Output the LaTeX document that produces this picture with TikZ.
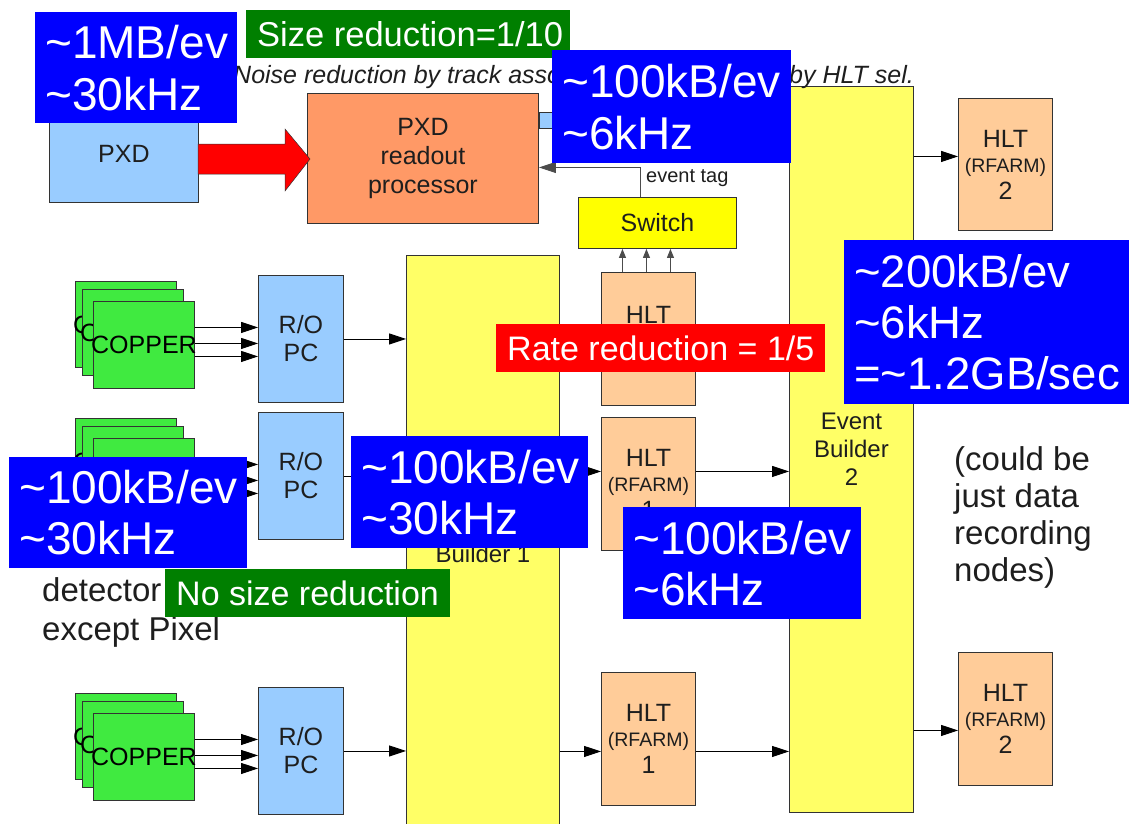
\documentclass[tikz,border=0pt]{standalone}
\usepackage{fontspec}
\setmainfont{Liberation Sans}
\usetikzlibrary{arrows.meta}
\definecolor{lblue}{HTML}{99CCFF}
\definecolor{orng}{HTML}{FF9966}
\definecolor{hltc}{HTML}{FFCC99}
\definecolor{ebc}{HTML}{FFFF66}
\definecolor{swc}{HTML}{FFFF00}
\definecolor{cuc}{HTML}{40EA40}
\definecolor{lblc}{HTML}{0000FF}
\definecolor{grn}{HTML}{007F00}
\definecolor{txt}{HTML}{1E1E1E}
\definecolor{bord}{HTML}{333333}
\newcommand{\fsz}[2]{\fontsize{#1}{#2}\selectfont}
\begin{document}
\begin{tikzpicture}[x=1pt,y=-1pt,
 box/.style={draw=bord, line width=0.9pt, anchor=north west, inner sep=0pt, align=center, text=txt},
 hlt/.style={box, fill=hltc, minimum width=94pt, minimum height=133pt, font=\fsz{25}{27}},
 cu/.style={box, fill=cuc, minimum width=101pt, minimum height=86pt, font=\fsz{25}{29}, text=black},
 tag/.style={anchor=north west, inner xsep=10pt, inner ysep=0pt, text=white, align=left},
 tagone/.style={anchor=north west, inner xsep=11pt, inner ysep=0pt, text=white},
 arr/.style={-{Triangle[length=17pt,width=11pt]}, line width=0.9pt, draw=black},
 sarr/.style={-{Triangle[length=9pt,width=7pt]}, line width=0.9pt, draw=black!70},
 lab/.style={inner sep=0pt, text=txt},
]
\useasboundingbox[fill=white] (0,0) rectangle (1129,823);

% main blocks
\node[box, fill=lblue, minimum width=149pt, minimum height=98pt, font=\fsz{25}{29}] (pxd) at (49,104) {PXD};
\node[box, fill=orng, minimum width=231pt, minimum height=130pt, font=\fsz{25}{29}] (rop) at (307,93) {PXD\\readout\\processor};
\node[box, fill=ebc, minimum width=153pt, minimum height=570pt, font=\fsz{24}{28}] (eb1) at (406,255) {Event\\Builder 1};
\node[box, fill=ebc, minimum width=124pt, minimum height=726pt, font=\fsz{24}{28}] (eb2) at (789,86) {Event\\Builder\\2};
\node[box, fill=swc, minimum width=158pt, minimum height=51pt, font=\fsz{25}{29}] (sw) at (578,197) {Switch};
\node[box, fill=lblue, minimum width=20pt, minimum height=16pt] (pxout) at (539,112) {};

% red arrow PXD -> readout
\filldraw[fill=red, draw=bord, line width=0.5pt] (198,144) -- (285,144) -- (285,129) -- (310,159) -- (285,191) -- (285,174) -- (198,174) -- cycle;

\draw[arr] (pxout.east) -- (pxout.east -| eb2.west);

% COPPER stacks and R/O PCs
\foreach \dy/\k in {0/1,137/2,412/3}{
  \node[cu] (cuA\k) at (75,{281+\dy}) {\makebox[0pt]{COPPER}};
  \node[cu] (cuB\k) at (82,{289+\dy}) {\makebox[0pt]{COPPER}};
  \node[cu, minimum height=87pt] (cuC\k) at (93,{301+\dy}) {\makebox[0pt]{COPPER}};
  \node[box, fill=lblue, minimum width=85pt, minimum height=127pt, font=\fsz{25}{28}] (ro\k) at (258,{275+\dy}) {R/O\\PC};
  \foreach \s in {17.5,1.5,-11.5}{
    \coordinate (c\k) at ([yshift=\s pt]cuC\k.east);
    \draw[arr] (c\k) -- (c\k -| ro\k.west);
  }
  \draw[arr] (ro\k.east) -- (ro\k.east -| eb1.west);
}

% HLT nodes
\node[hlt] (h1) at (601,272) {HLT\\[-3pt]{\fsz{19.5}{24}(RFARM)}\\[-2pt]1};
\node[hlt] (h2) at (601,417) {HLT\\[-2pt]{\fsz{19.5}{24}(RFARM)}\\1};
\node[hlt] (h3) at (601,672) {HLT\\[-2pt]{\fsz{19.5}{24}(RFARM)}\\1};
\node[hlt, minimum height=132pt] (h4) at (958,98) {HLT\\[-2pt]{\fsz{19.5}{24}(RFARM)}\\2};
\node[hlt] (h5) at (958,652) {HLT\\[-2pt]{\fsz{19.5}{24}(RFARM)}\\2};

\draw[arr] (h1.west -| eb1.east) -- (h1.west);
\draw[arr] (h1.east) -- (h1.east -| eb2.west);
\coordinate (r2) at ([yshift=12.5pt]h2.west);
\coordinate (r2e) at ([yshift=12.5pt]h2.east);
\draw[arr] (r2 -| eb1.east) -- (r2);
\draw[arr] (r2e) -- (r2e -| eb2.west);
\coordinate (r3) at ([yshift=-12.5pt]h3.west);
\coordinate (r3e) at ([yshift=-12.5pt]h3.east);
\draw[arr] (r3 -| eb1.east) -- (r3);
\draw[arr] (r3e) -- (r3e -| eb2.west);
\coordinate (r4) at ([yshift=8pt]h4.west);
\draw[arr] (r4 -| eb2.east) -- (r4);
\coordinate (r5) at ([yshift=-11.5pt]h5.west);
\draw[arr] (r5 -| eb2.east) -- (r5);

% HLT -> switch
\foreach \s in {-26,-2,22}{
  \coordinate (p) at ([xshift=\s pt]h1.north);
  \draw[sarr] (p) -- (p |- sw.south);
}
% switch -> readout (event tag)
\coordinate (et) at ([xshift=-17pt]sw.north);
\coordinate (rt) at ([yshift=-9pt]rop.east);
\draw[arr, draw=black!70] (et) |- (rt);
\node[lab, anchor=west, font=\fsz{20}{24}] (evt) at (646,178) {event tag};

% free texts
\node[lab, anchor=base west, font=\itshape\fsz{25}{30}] (noise) at (233,83) {Noise reduction by track association};
\node[lab, anchor=base east, font=\itshape\fsz{25}{30}] (hltsel) at (914,83) {by HLT sel.};
\node[lab, anchor=west, align=left, font=\fsz{33}{39}] (det) at (42,612) {detector\\except Pixel};
\node[lab, anchor=west, align=left, font=\fsz{33}{37}] (could) at (954,517) {(could be\\just data\\recording\\nodes)};

% annotation tags
\node[tag, fill=lblc, minimum width=202pt, minimum height=111pt, text width=182pt, font=\fsz{46}{52}] (b1) at (35,12) {\textasciitilde 1MB/ev\\\textasciitilde 30kHz};
\node[tagone, fill=grn, minimum height=48pt, font=\fsz{34.5}{38}] (g1) at (246,10) {\makebox[302pt][l]{Size reduction=1/10}};
\node[tag, fill=lblc, minimum width=239pt, minimum height=113pt, text width=219pt, font=\fsz{46}{52}] (b2) at (552,50) {\textasciitilde 100kB/ev\\\textasciitilde 6kHz};
\node[tagone, fill=red, minimum height=48pt, font=\fsz{34}{38}] (rr) at (496,324) {\makebox[307pt][l]{Rate reduction = 1/5}};
\node[tag, fill=lblc, minimum width=285pt, minimum height=164pt, text width=265pt, font=\fsz{45.5}{51}] (b3) at (844,240) {\textasciitilde 200kB/ev\\\textasciitilde 6kHz\\=\textasciitilde 1.2GB/sec};
\node[tag, fill=lblc, minimum width=238pt, minimum height=111pt, text width=218pt, font=\fsz{46}{51}] (b4) at (9,457) {\textasciitilde 100kB/ev\\\textasciitilde 30kHz};
\node[tag, fill=lblc, minimum width=237pt, minimum height=112pt, text width=217pt, font=\fsz{46}{51}] (b5) at (351,436) {\textasciitilde 100kB/ev\\\textasciitilde 30kHz};
\node[tag, fill=lblc, minimum width=238pt, minimum height=112pt, text width=218pt, font=\fsz{46}{51}] (b6) at (623,507) {\textasciitilde 100kB/ev\\\textasciitilde 6kHz};
\node[tagone, fill=grn, minimum height=48pt, font=\fsz{34}{38}] (g2) at (165,569) {\makebox[263pt][l]{No size reduction}};
\end{tikzpicture}
\end{document}
